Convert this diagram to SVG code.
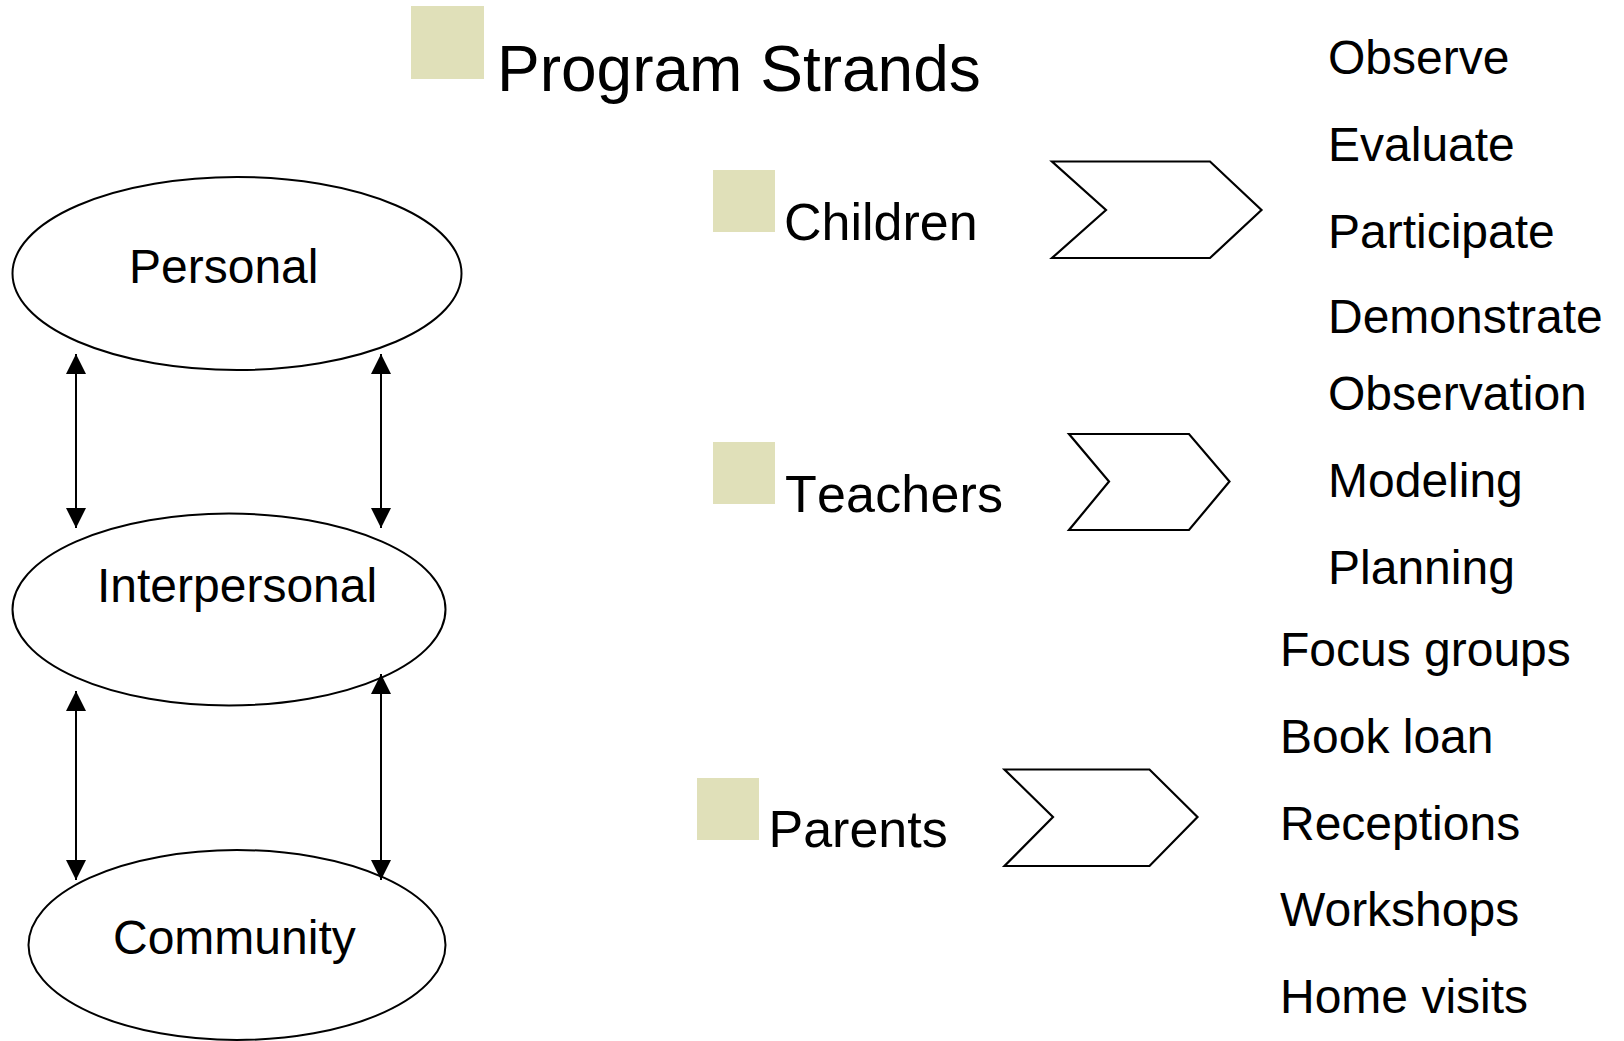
<svg xmlns="http://www.w3.org/2000/svg" width="1624" height="1041" viewBox="0 0 1624 1041">
<style>
text{font-family:"Liberation Sans",Arial,sans-serif;fill:#000}
.ell{fill:#fff;stroke:#000;stroke-width:2}
.chev{fill:#fff;stroke:#000;stroke-width:2.2;stroke-linejoin:miter}
.bul{fill:#E0E0B9}
.conn{stroke:#000;stroke-width:2;fill:none}
.et{font-size:48px}
.st{font-size:52px}
.li{font-size:48px}
</style>
<defs>
<marker id="ah" markerUnits="userSpaceOnUse" markerWidth="20" markerHeight="20" viewBox="0 0 20 20" refX="20" refY="10" orient="auto-start-reverse">
<path d="M0,0 L20,10 L0,20 z" fill="#000"/>
</marker>
</defs>
<rect width="1624" height="1041" fill="#fff"/>
<g id="title">
<rect class="bul" x="411" y="6" width="73" height="73"/>
<text x="497" y="91" style="font-size:64px">Program Strands</text>
</g>
<g id="personal">
<ellipse class="ell" cx="237" cy="273.5" rx="224.5" ry="96.5"/>
<text class="et" x="129" y="283">Personal</text>
</g>
<g id="interpersonal">
<ellipse class="ell" cx="229" cy="609.5" rx="216.5" ry="96"/>
<text class="et" x="97" y="602">Interpersonal</text>
</g>
<g id="community">
<ellipse class="ell" cx="237" cy="945" rx="208.5" ry="95"/>
<text class="et" x="113" y="954">Community</text>
</g>
<g id="connectors">
<line class="conn" x1="76" y1="354" x2="76" y2="528" marker-start="url(#ah)" marker-end="url(#ah)"/>
<line class="conn" x1="381" y1="354" x2="381" y2="528" marker-start="url(#ah)" marker-end="url(#ah)"/>
<line class="conn" x1="76" y1="691" x2="76" y2="880" marker-start="url(#ah)" marker-end="url(#ah)"/>
<line class="conn" x1="381" y1="674" x2="381" y2="880" marker-start="url(#ah)" marker-end="url(#ah)"/>
</g>
<g id="children">
<rect class="bul" x="713" y="170" width="62" height="62"/>
<text class="st" x="784" y="240">Children</text>
</g>
<g id="children-chevron">
<polygon class="chev" points="1052,161.5 1210,161.5 1261.5,210 1210,258 1052,258 1106,210"/>
</g>
<g id="teachers">
<rect class="bul" x="713" y="442" width="62" height="62"/>
<text class="st" x="785" y="511.5" textLength="218" lengthAdjust="spacing" style="font-kerning:none">Teachers</text>
</g>
<g id="teachers-chevron">
<polygon class="chev" points="1069,434 1189,434 1229.5,481.5 1189,530 1069,530 1109,481.5"/>
</g>
<g id="parents">
<rect class="bul" x="697" y="778" width="62" height="62"/>
<text class="st" x="768.5" y="847">Parents</text>
</g>
<g id="parents-chevron">
<polygon class="chev" points="1004.5,769.5 1149.5,769.5 1197.5,817 1149.5,866 1004.5,866 1053,817"/>
</g>
<g id="children-activities">
<text class="li" x="1328" y="74">Observe</text>
<text class="li" x="1328" y="161">Evaluate</text>
<text class="li" x="1328" y="248">Participate</text>
<text class="li" x="1328" y="333">Demonstrate</text>
</g>
<g id="teacher-activities">
<text class="li" x="1328" y="410">Observation</text>
<text class="li" x="1328" y="497">Modeling</text>
<text class="li" x="1328" y="584">Planning</text>
</g>
<g id="parent-activities">
<text class="li" x="1280" y="666">Focus groups</text>
<text class="li" x="1280" y="753">Book loan</text>
<text class="li" x="1280" y="840">Receptions</text>
<text class="li" x="1280" y="926">Workshops</text>
<text class="li" x="1280" y="1013">Home visits</text>
</g>
</svg>
